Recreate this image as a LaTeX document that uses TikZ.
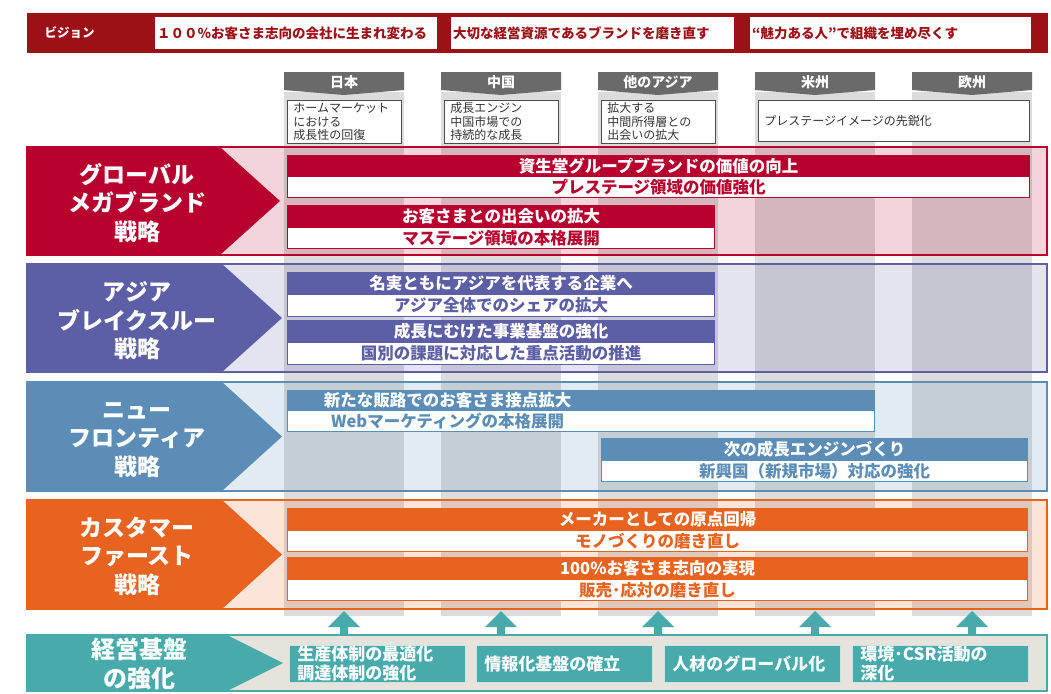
\documentclass[tikz,border=0pt]{standalone}
\usepackage{fontspec}
\setmainfont{Noto Sans CJK JP}
\definecolor{visred}{HTML}{9C1118}
\definecolor{gmb}{HTML}{B8002E}
\definecolor{abt}{HTML}{5C5FA6}
\definecolor{nft}{HTML}{5B8DB6}
\definecolor{cfs}{HTML}{E8631F}
\definecolor{mgt}{HTML}{48AAAA}
\definecolor{hdrgray}{HTML}{6A6A6A}
\definecolor{stripe}{HTML}{DCDCDC}
\definecolor{desctext}{HTML}{333333}
\definecolor{basebg}{HTML}{E6E3DC}
\newcommand\drawband[5]{%
  \fill[#1, fill opacity=0.17] (27,#2) rectangle (1047,#3);
  \draw[#1, line width=2.5] (27,#2) rectangle (1047,#3);
  \fill[#1] (27,#2) -- (#4,#2) -- (#5,{(#2+#3)/2}) -- (#4,#3) -- (27,#3) -- cycle;
}
\begin{document}
\begin{tikzpicture}[x=1pt,y=-1pt,
  visbox/.style={fill=white, anchor=north west, minimum height=32, inner xsep=2, inner ysep=0, text=visred, font=\fontsize{13.5}{16}\selectfont\bfseries, align=left},
  hdr/.style={text=white, font=\fontsize{14}{16}\selectfont\bfseries},
  desc/.style={draw=gray!60!black, line width=0.8, fill=white, anchor=north west, inner xsep=6, inner ysep=0, align=left, text=desctext, font=\fontsize{12}{13.5}\selectfont},
  bandlbl/.style={text=white, font=\fontsize{23}{28.5}\selectfont\bfseries, align=center},
  bartop/.style={fill=#1, draw=#1, line width=1.2, text=white, anchor=north west, inner sep=0, font=\fontsize{16.5}{18}\selectfont\bfseries},
  barbot/.style={fill=white, draw=#1, line width=1.2, text=#1, anchor=north west, inner sep=0, font=\fontsize{16.5}{18}\selectfont\bfseries},
  basebox/.style={fill=mgt, draw=white!70!mgt, line width=0.8, anchor=north west, minimum height=37, inner xsep=8, inner ysep=0, text width=160, text=white, align=left, font=\fontsize{17}{19}\selectfont\bfseries},
]
\useasboundingbox (0,0) rectangle (1051,693);
\fill[white] (0,0) rectangle (1051,693);

% vision banner
\fill[visred] (27,13) rectangle (1048,53);
\node[anchor=west, text=white, font=\fontsize{12.5}{14}\selectfont\bfseries] (vis) at (41,33) {ビジョン};
\node[visbox, text width=278] (v1) at (155,17) {１００％お客さま志向の会社に生まれ変わる};
\node[visbox, text width=279] (v2) at (451,17) {大切な経営資源であるブランドを磨き直す};
\node[visbox, text width=277] (v3) at (750,17) {“魅力ある人”で組織を埋め尽くす};

% column stripes
\foreach \i in {0,...,4}{
  \fill[stripe] ({284+157*\i},92) rectangle ({404+157*\i},616);
}
% column headers
\foreach \i/\t in {0/日本,1/中国,2/他のアジア,3/米州,4/欧州}{
  \fill[hdrgray] ({284+157*\i},72) -- ({404+157*\i},72) -- ({404+157*\i},90) -- ({344+157*\i},95) -- ({284+157*\i},90) -- cycle;
  \node[hdr] (h\i) at ({344+157*\i},82) {\t};
}
% descriptions
\node[desc, text width=102, minimum height=43] (d0) at (287,100) {ホームマーケット\\における\\成長性の回復};
\node[desc, text width=102, minimum height=43] (d1) at (444,100) {成長エンジン\\中国市場での\\持続的な成長};
\node[desc, text width=102, minimum height=43] (d2) at (601,100) {拡大する\\中間所得層との\\出会いの拡大};
\node[desc, text width=259, minimum height=41] (d3) at (758,100) {プレステージイメージの先鋭化};

% band 1
\drawband{gmb}{147}{255}{220}{280}
\node[bandlbl] (l1) at (137,203) {グローバル\\メガブランド\\戦略};
\node[bartop=gmb, minimum width=742, minimum height=21] (b1a) at (287,155) {資生堂グループブランドの価値の向上};
\node[barbot=gmb, minimum width=742, minimum height=21] (b1b) at (287,176) {プレステージ領域の価値強化};
\node[bartop=gmb, minimum width=427, minimum height=22] (b1c) at (287,205) {お客さまとの出会いの拡大};
\node[barbot=gmb, minimum width=427, minimum height=21] (b1d) at (287,227) {マステージ領域の本格展開};

% band 2
\drawband{abt}{264}{372}{222}{282}
\node[bandlbl] (l2) at (137,321) {アジア\\ブレイクスルー\\戦略};
\node[bartop=abt, minimum width=427, minimum height=22] (b2a) at (287,272) {名実ともにアジアを代表する企業へ};
\node[barbot=abt, minimum width=427, minimum height=22] (b2b) at (287,294) {アジア全体でのシェアの拡大};
\node[bartop=abt, minimum width=427, minimum height=22] (b2c) at (287,320) {成長にむけた事業基盤の強化};
\node[barbot=abt, minimum width=427, minimum height=22] (b2d) at (287,342) {国別の課題に対応した重点活動の推進};

% band 3
\drawband{nft}{382}{491}{222}{282}
\node[bandlbl] (l3) at (137,440) {ニュー\\フロンティア\\戦略};
\node[bartop=nft, minimum width=587, minimum height=20, text width=587, align=left] (b3a) at (287,390) {\makebox[320pt][c]{新たな販路でのお客さま接点拡大}};
\node[barbot=nft, minimum width=587, minimum height=21, text width=587, align=left] (b3b) at (287,410) {\makebox[320pt][c]{Webマーケティングの本格展開}};
\node[bartop=nft, minimum width=426, minimum height=22] (b3c) at (601,438) {次の成長エンジンづくり};
\node[barbot=nft, minimum width=426, minimum height=21] (b3d) at (601,460) {新興国（新規市場）対応の強化};

% band 4
\drawband{cfs}{500}{609}{222}{282}
\node[bandlbl] (l4) at (137,556) {カスタマー\\ファースト\\戦略};
\node[bartop=cfs, minimum width=740, minimum height=22] (b4a) at (287,508) {メーカーとしての原点回帰};
\node[barbot=cfs, minimum width=740, minimum height=21] (b4b) at (287,530) {モノづくりの磨き直し};
\node[bartop=cfs, minimum width=740, minimum height=22] (b4c) at (287,557) {100\%お客さま志向の実現};
\node[barbot=cfs, minimum width=740, minimum height=21] (b4d) at (287,579) {販売･応対の磨き直し};

% up arrows
\foreach \i in {0,...,4}{
  \fill[mgt] ({344+157*\i-16},627) -- ({344+157*\i},611) -- ({344+157*\i+16},627) -- ({344+157*\i+4},627) -- ({344+157*\i+4},636) -- ({344+157*\i-4},636) -- ({344+157*\i-4},627) -- cycle;
}

% band 5
\fill[basebg] (27,635) rectangle (1047,691);
\draw[mgt, line width=2.5] (27,635) rectangle (1047,691);
\fill[mgt] (27,635) -- (227,635) -- (283,663) -- (227,691) -- (27,691) -- cycle;
\node[bandlbl, font=\fontsize{24}{29}\selectfont\bfseries] (l5) at (139,664) {経営基盤\\の強化};
\node[basebox] (e1) at (289,645) {生産体制の最適化\\調達体制の強化};
\node[basebox] (e2) at (476,645) {情報化基盤の確立};
\node[basebox] (e3) at (664,645) {人材のグローバル化};
\node[basebox] (e4) at (852,645) {環境･CSR活動の\\深化};
\end{tikzpicture}
\end{document}
